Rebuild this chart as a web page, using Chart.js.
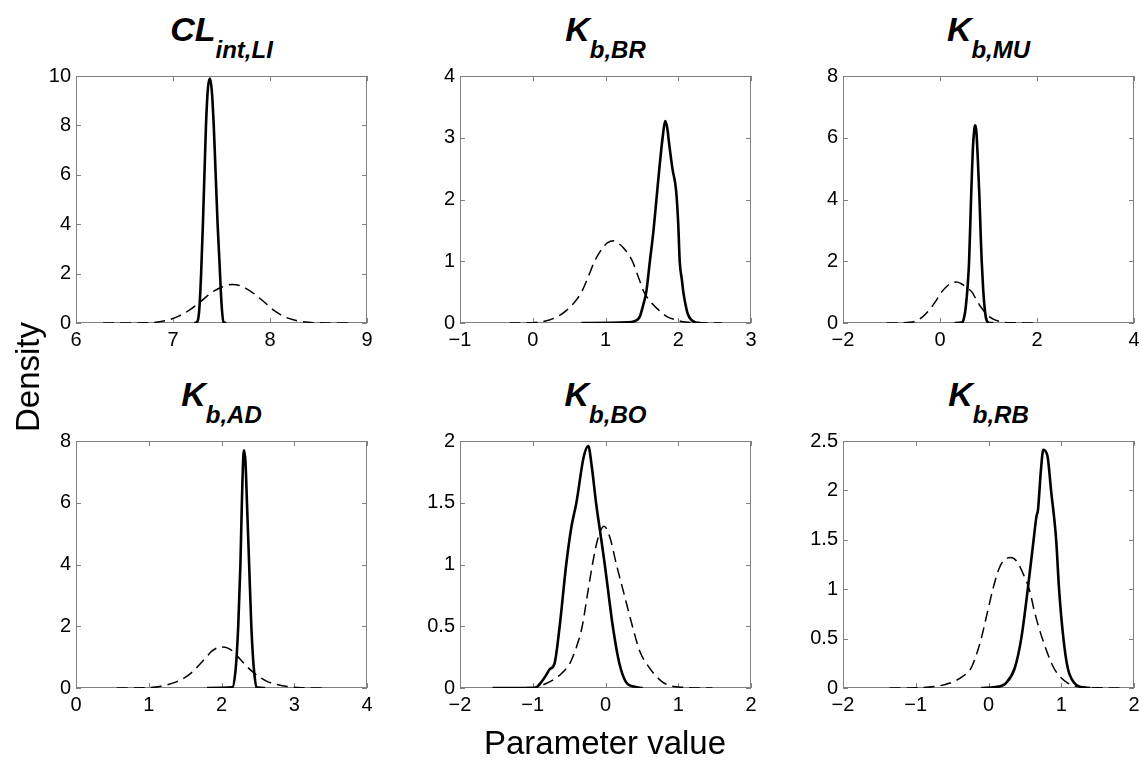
<!DOCTYPE html>
<html>
<head>
<meta charset="utf-8">
<script src="https://cdn.jsdelivr.net/npm/chart.js@4.4.0/dist/chart.umd.min.js"></script>
<style>
  html, body { margin: 0; padding: 0; overflow: hidden; }
  body { width: 1142px; height: 762px; background: #fff; position: relative; font-family: "Liberation Sans", Arial, sans-serif; color: #000; }
  .panel { position: absolute; }
  .title { position: absolute; text-align: center; font-weight: bold; font-style: italic; font-size: 34px; line-height: 34px; white-space: nowrap; }
  .title .sub { font-size: 24px; position: relative; top: 17px; }
  .ylabel { position: absolute; left: 28px; top: 377px; font-size: 33px; transform: translate(-50%, -50%) rotate(-90deg); white-space: nowrap; }
  .xlabel { position: absolute; left: 605px; top: 724px; font-size: 33px; transform: translateX(-50%); white-space: nowrap; }
</style>
</head>
<body>
<div id="content"></div>
<div class="ylabel">Density</div>
<div class="xlabel">Parameter value</div>
<script>
// solid = posterior, dashed = prior

// CL int,LI
const clPostX = [7.22, 7.25, 7.27, 7.29, 7.31, 7.34, 7.36, 7.38, 7.40, 7.42, 7.44, 7.46, 7.48, 7.50, 7.52, 7.55];
const clPostY = [0, 0.05, 0.5, 2.0, 4.2, 8.0, 9.5, 9.9, 9.4, 8.0, 6.0, 4.0, 2.4, 0.8, 0.05, 0];
const clPriorX = [6.28, 6.6, 6.8, 6.95, 7.07, 7.18, 7.28, 7.36, 7.42, 7.5, 7.61, 7.7, 7.76, 7.83, 7.9, 7.97, 8.03, 8.1, 8.17, 8.24, 8.31, 8.45, 8.6, 8.86];
const clPriorY = [0, 0.003, 0.02, 0.12, 0.3, 0.55, 0.85, 1.12, 1.29, 1.45, 1.56, 1.5, 1.38, 1.2, 0.98, 0.75, 0.54, 0.36, 0.22, 0.13, 0.07, 0.015, 0.003, 0];

// Kb,BR
const brPostX = [0.67, 1.3, 1.40, 1.47, 1.52, 1.56, 1.61, 1.66, 1.70, 1.74, 1.785, 1.82, 1.85, 1.87, 1.92, 1.97, 2.0, 2.02, 2.05, 2.07, 2.1, 2.13, 2.18, 2.24, 2.3];
const brPostY = [0, 0.01, 0.03, 0.1, 0.3, 0.5, 1.0, 1.5, 2.0, 2.5, 3.0, 3.27, 3.15, 2.95, 2.5, 2.15, 1.6, 1.0, 0.7, 0.5, 0.3, 0.15, 0.05, 0.01, 0];
const brPriorX = [-0.32, 0.0, 0.23, 0.35, 0.46, 0.57, 0.67, 0.76, 0.85, 0.95, 1.03, 1.11, 1.19, 1.28, 1.37, 1.45, 1.53, 1.63, 1.74, 1.85, 1.97, 2.1, 2.3, 2.6];
const brPriorY = [0, 0.005, 0.05, 0.11, 0.2, 0.33, 0.5, 0.74, 1.0, 1.2, 1.3, 1.33, 1.28, 1.17, 1.0, 0.75, 0.5, 0.33, 0.2, 0.1, 0.05, 0.015, 0.003, 0];

// Kb,MU
const muPostX = [0.3, 0.46, 0.5, 0.53, 0.57, 0.60, 0.64, 0.68, 0.71, 0.727, 0.75, 0.78, 0.815, 0.84, 0.86, 0.89, 0.92, 0.95, 1.0, 1.1];
const muPostY = [0, 0.02, 0.2, 0.5, 1.2, 2.0, 4.0, 5.7, 6.3, 6.4, 6.2, 5.3, 4.0, 2.8, 2.0, 1.1, 0.5, 0.15, 0.01, 0];
const muPriorX = [-1.1, -0.8, -0.52, -0.36, -0.18, -0.07, 0.03, 0.15, 0.25, 0.34, 0.43, 0.53, 0.66, 0.75, 0.85, 1.02, 1.23, 1.5, 2.0];
const muPriorY = [0, 0.005, 0.05, 0.2, 0.5, 0.75, 1.0, 1.2, 1.3, 1.33, 1.28, 1.17, 1.0, 0.75, 0.5, 0.2, 0.05, 0.008, 0];

// Kb,AD
const adPostX = [1.8, 2.15, 2.19, 2.21, 2.23, 2.26, 2.28, 2.3, 2.31, 2.33, 2.35, 2.38, 2.41, 2.43, 2.45, 2.48, 2.6];
const adPostY = [0, 0.02, 0.5, 1.1, 2.0, 4.0, 6.0, 7.5, 7.7, 7.3, 6.0, 4.0, 2.0, 1.1, 0.5, 0.02, 0];
const adPriorX = [0.56, 0.9, 1.15, 1.38, 1.49, 1.59, 1.69, 1.79, 1.87, 1.94, 2.01, 2.08, 2.15, 2.23, 2.33, 2.44, 2.54, 2.64, 2.9, 3.1, 3.44];
const adPriorY = [0, 0.005, 0.05, 0.2, 0.33, 0.5, 0.74, 1.0, 1.2, 1.3, 1.33, 1.3, 1.2, 1.0, 0.74, 0.5, 0.33, 0.2, 0.05, 0.01, 0];

// Kb,BO
const boPostX = [-1.55, -0.97, -0.88, -0.82, -0.77, -0.70, -0.63, -0.54, -0.47, -0.40, -0.30, -0.237, -0.19, -0.13, -0.07, -0.01, 0.055, 0.10, 0.19, 0.28, 0.4, 0.51];
const boPostY = [0, 0, 0.05, 0.1, 0.15, 0.2, 0.5, 1.0, 1.3, 1.5, 1.87, 1.96, 1.8, 1.5, 1.25, 1.0, 0.7, 0.5, 0.2, 0.05, 0.01, 0];
const boPriorX = [-1.55, -1.0, -0.77, -0.6, -0.49, -0.4, -0.32, -0.25, -0.18, -0.1, -0.02, 0.06, 0.15, 0.26, 0.37, 0.47, 0.56, 0.78, 1.0, 1.47];
const boPriorY = [0, 0.005, 0.05, 0.12, 0.2, 0.33, 0.5, 0.75, 1.0, 1.22, 1.31, 1.22, 1.0, 0.75, 0.5, 0.3, 0.2, 0.05, 0.008, 0];

// Kb,RB
const rbPostX = [-0.1, 0.1, 0.17, 0.24, 0.36, 0.45, 0.54, 0.62, 0.66, 0.68, 0.72, 0.753, 0.81, 0.86, 0.93, 0.97, 1.03, 1.09, 1.18, 1.27, 1.4];
const rbPostY = [0, 0.01, 0.02, 0.05, 0.2, 0.5, 1.0, 1.5, 1.74, 1.8, 2.2, 2.41, 2.35, 2.0, 1.5, 1.0, 0.5, 0.2, 0.05, 0.01, 0];
const rbPriorX = [-1.36, -0.9, -0.53, -0.35, -0.24, -0.17, -0.10, -0.02, 0.06, 0.14, 0.22, 0.31, 0.40, 0.48, 0.56, 0.64, 0.74, 0.90, 1.09, 1.3, 1.8];
const rbPriorY = [0, 0.005, 0.05, 0.12, 0.2, 0.33, 0.5, 0.75, 1.0, 1.2, 1.3, 1.32, 1.27, 1.15, 1.0, 0.75, 0.5, 0.2, 0.05, 0.008, 0];

// tick labels
const clXTicks = [6, 7, 8, 9],   clYTicks = [0, 2, 4, 6, 8, 10];
const brXTicks = [-1, 0, 1, 2, 3], brYTicks = [0, 1, 2, 3, 4];
const muXTicks = [-2, 0, 2, 4],  muYTicks = [0, 2, 4, 6, 8];
const adXTicks = [0, 1, 2, 3, 4], adYTicks = [0, 2, 4, 6, 8];
const boXTicks = [-2, -1, 0, 1, 2], boYTicks = [0, 0.5, 1, 1.5, 2];
const rbXTicks = [-2, -1, 0, 1, 2], rbYTicks = [0, 0.5, 1, 1.5, 2, 2.5];

const PANELS = [
  { main: "CL", sub: "int,LI", postX: clPostX, postY: clPostY, priorX: clPriorX, priorY: clPriorY, xTicks: clXTicks, yTicks: clYTicks },
  { main: "K", sub: "b,BR", postX: brPostX, postY: brPostY, priorX: brPriorX, priorY: brPriorY, xTicks: brXTicks, yTicks: brYTicks },
  { main: "K", sub: "b,MU", postX: muPostX, postY: muPostY, priorX: muPriorX, priorY: muPriorY, xTicks: muXTicks, yTicks: muYTicks },
  { main: "K", sub: "b,AD", postX: adPostX, postY: adPostY, priorX: adPriorX, priorY: adPriorY, xTicks: adXTicks, yTicks: adYTicks },
  { main: "K", sub: "b,BO", postX: boPostX, postY: boPostY, priorX: boPriorX, priorY: boPriorY, xTicks: boXTicks, yTicks: boYTicks },
  { main: "K", sub: "b,RB", postX: rbPostX, postY: rbPostY, priorX: rbPriorX, priorY: rbPriorY, xTicks: rbXTicks, yTicks: rbYTicks }
];

// layout (plot area of each subplot, in page pixels)
const COL_LEFT = [76, 460, 843];
const ROW_TOP = [75, 440];
const PLOT_W = 291, PLOT_H = 248;
const Y_AXIS_W = 60, X_AXIS_H = 40, PAD_T = 16, PAD_R = 16;
const TITLE_DY = 63; // title top above plot area

const FONT = "'Liberation Sans', Arial, sans-serif";

function toPoints(xs, ys) {
  return xs.map((x, i) => ({ x, y: ys[i] }));
}

function fmt(v) {
  return v < 0 ? "\u2212" + Math.abs(v) : String(v);
}

// matlab-ish box with inward ticks on all four sides
const boxPlugin = {
  id: "box",
  beforeDatasetsDraw(chart) {
    const { ctx, chartArea: a, scales } = chart;
    const t = 5;
    ctx.save();
    ctx.strokeStyle = "#808080";
    ctx.lineWidth = 1;
    ctx.strokeRect(a.left + 0.5, a.top + 0.5, a.right - a.left - 1, a.bottom - a.top - 1);
    ctx.beginPath();
    scales.x.ticks.forEach(tk => {
      const px = Math.round(scales.x.getPixelForValue(tk.value)) + 0.5;
      ctx.moveTo(px, a.bottom); ctx.lineTo(px, a.bottom - t);
      ctx.moveTo(px, a.top); ctx.lineTo(px, a.top + t);
    });
    scales.y.ticks.forEach(tk => {
      const py = Math.round(scales.y.getPixelForValue(tk.value)) + 0.5;
      ctx.moveTo(a.left, py); ctx.lineTo(a.left + t, py);
      ctx.moveTo(a.right, py); ctx.lineTo(a.right - t, py);
    });
    ctx.stroke();
    ctx.restore();
  }
};

function renderPanel(p, idx) {
  const col = idx % 3, row = Math.floor(idx / 3);
  const left = COL_LEFT[col], top = ROW_TOP[row];
  const root = document.getElementById("content");

  // Title
  const title = document.createElement("div");
  title.className = "title";
  title.style.left = left + "px";
  title.style.width = PLOT_W + "px";
  title.style.top = (top - TITLE_DY) + "px";
  title.innerHTML = `${p.main}<span class="sub">${p.sub}</span>`;
  root.appendChild(title);

  // Canvas
  const canvas = document.createElement("canvas");
  canvas.className = "panel";
  const cw = Y_AXIS_W + PLOT_W + PAD_R, ch = PAD_T + PLOT_H + X_AXIS_H;
  canvas.width = cw; canvas.height = ch;
  canvas.style.width = cw + "px"; canvas.style.height = ch + "px";
  canvas.style.left = (left - Y_AXIS_W) + "px";
  canvas.style.top = (top - PAD_T) + "px";
  root.appendChild(canvas);

  const tickFont = { family: FONT, size: 20 };
  const xs = p.xTicks, ys = p.yTicks;

  new Chart(canvas.getContext("2d"), {
    type: "scatter",
    data: {
      datasets: [
        { data: toPoints(p.postX, p.postY), showLine: true, borderColor: "#000", borderWidth: 2.6, pointRadius: 0, cubicInterpolationMode: "monotone" },
        { data: toPoints(p.priorX, p.priorY), showLine: true, borderColor: "#000", borderWidth: 1.5, borderDash: [11, 6], pointRadius: 0, cubicInterpolationMode: "monotone" }
      ]
    },
    options: {
      responsive: false,
      animation: false,
      events: [],
      layout: { padding: { left: 0, top: PAD_T, right: PAD_R, bottom: 0 } },
      plugins: { legend: { display: false }, tooltip: { enabled: false } },
      scales: {
        x: {
          type: "linear",
          min: xs[0], max: xs[xs.length - 1],
          afterBuildTicks: s => { s.ticks = xs.map(v => ({ value: v })); },
          afterFit: s => { s.height = X_AXIS_H; },
          grid: { display: false, drawTicks: false },
          border: { display: false },
          ticks: { color: "#000", font: tickFont, padding: 5, maxRotation: 0, autoSkip: false, callback: v => fmt(v) }
        },
        y: {
          type: "linear",
          min: ys[0], max: ys[ys.length - 1],
          afterBuildTicks: s => { s.ticks = ys.map(v => ({ value: v })); },
          afterFit: s => { s.width = Y_AXIS_W; },
          grid: { display: false, drawTicks: false },
          border: { display: false },
          ticks: { color: "#000", font: tickFont, padding: 5, autoSkip: false, callback: v => fmt(v) }
        }
      }
    },
    plugins: [boxPlugin]
  });
}

function init() {
  PANELS.forEach((p, i) => renderPanel(p, i));
}

document.addEventListener("DOMContentLoaded", init);
</script>
</body>
</html>
